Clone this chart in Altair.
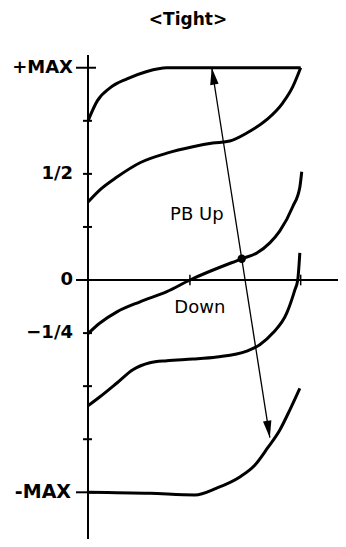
import altair as alt
import pandas as pd

TITLE = "<Tight>"

# y units: +MAX = 4, 1/2 = 2, 0 = 0, -1/4 = -1, -MAX = -4
major_ticks = [4, 0, -4]
minor_ticks = [3, 2, 1, -1, -2, -3]
label_values = [4, 2, 0, -1]
label_texts = ["+MAX", "1/2", "0", "\u22121/4"]
negmax_value = [-4]
negmax_text = ["-MAX"]
x_ticks = [4.86, 10.14]

# curves
c1_x = [0, 0.45, 1.05, 1.86, 2.81, 3.76, 10.14]
c1_y = [3.0, 3.38, 3.62, 3.79, 3.93, 4.0, 4.0]
c2_x = [0, 0.57, 1.38, 2.48, 3.76, 5.0, 5.95, 6.76, 7.57, 8.52, 9.29, 9.76, 10.14]
c2_y = [1.47, 1.70, 1.94, 2.21, 2.39, 2.51, 2.58, 2.62, 2.77, 3.02, 3.34, 3.64, 4.0]
c3_x = [0, 0.57, 1.38, 2.48, 3.76, 4.86, 7.33, 8.05, 8.67, 9.14, 9.76, 10.1, 10.19]
c3_y = [-1.01, -0.81, -0.60, -0.41, -0.22, 0.0, 0.40, 0.51, 0.70, 0.92, 1.38, 1.75, 2.04]
c4_x = [0, 0.57, 1.38, 2.14, 2.95, 3.76, 5.0, 6.14, 7.57, 8.19, 8.81, 9.48, 9.86, 10.0, 10.1]
c4_y = [-2.37, -2.20, -1.94, -1.69, -1.56, -1.52, -1.49, -1.45, -1.34, -1.22, -1.0, -0.62, -0.19, 0.0, 0.51]
c5_x = [0, 2.95, 5.1, 6.14, 7.24, 7.95, 8.57, 9.14, 9.62, 10.1]
c5_y = [-4.0, -4.02, -4.05, -3.92, -3.71, -3.49, -3.16, -2.83, -2.45, -2.04]

arrow_x = [5.9, 8.67]
arrow_y = [4.0, -2.97]
dot_x = [7.33]
dot_y = [0.40]

notes_text = ["PB Up", "Down"]
notes_x = [5.19, 5.33]
notes_y = [1.22, -0.53]

x_extent = [0, 11.92]
y_extent = [-4.88, 4.24]

rows = []
for name, xs_, ys_ in [("c1", c1_x, c1_y), ("c2", c2_x, c2_y), ("c3", c3_x, c3_y),
                       ("c4", c4_x, c4_y), ("c5", c5_x, c5_y)]:
    for i, (a, b) in enumerate(zip(xs_, ys_)):
        rows.append({"s": name, "i": i, "x": a, "y": b})
curves = pd.DataFrame(rows)

xs = alt.Scale(domain=x_extent, nice=False, zero=False)
ys = alt.Scale(domain=y_extent, nice=False, zero=False)


def X(f):
    return alt.X(f, type="quantitative", scale=xs, axis=None)


def Y(f):
    return alt.Y(f, type="quantitative", scale=ys, axis=None)


FONT = "DejaVu Sans"

yaxis = alt.Chart(pd.DataFrame({"x": [0], "y": [y_extent[0]], "y2": [y_extent[1]]})).mark_rule(
    strokeWidth=2, color="black").encode(x=X("x"), y=Y("y"), y2="y2")
xaxis = alt.Chart(pd.DataFrame({"y": [0], "x": [x_extent[0]], "x2": [x_extent[1]]})).mark_rule(
    strokeWidth=2, color="black").encode(y=Y("y"), x=X("x"), x2="x2")

major = alt.Chart(pd.DataFrame({"v": major_ticks})).mark_rule(strokeWidth=2, color="black").encode(
    y=Y("v"), x=alt.value(-12), x2=alt.value(8))
minor = alt.Chart(pd.DataFrame({"v": minor_ticks})).mark_rule(strokeWidth=2, color="black").encode(
    y=Y("v"), x=alt.value(-5), x2=alt.value(4))
xt = alt.Chart(pd.DataFrame({"x": x_ticks, "a": [0.1] * 2, "b": [-0.1] * 2})).mark_rule(
    strokeWidth=1.5, color="black").encode(x=X("x"), y=Y("a"), y2="b")

labels = alt.Chart(pd.DataFrame({"v": label_values, "t": label_texts})).mark_text(
    align="right", baseline="middle", dx=-15, font=FONT, fontWeight="bold", fontSize=18, color="black"
).encode(y=Y("v"), x=alt.value(0), text="t:N")
negmax = alt.Chart(pd.DataFrame({"v": negmax_value, "t": negmax_text})).mark_text(
    align="right", baseline="middle", dx=-17, font=FONT, fontWeight="bold", fontSize=19, color="black"
).encode(y=Y("v"), x=alt.value(0), text="t:N")

lines = alt.Chart(curves).mark_line(strokeWidth=3, color="black", interpolate="monotone").encode(
    x=X("x"), y=Y("y"), detail="s:N", order="i:Q")

arrow = alt.Chart(pd.DataFrame({"x": arrow_x, "y": arrow_y, "i": [0, 1]})).mark_line(
    strokeWidth=1.3, color="black").encode(x=X("x"), y=Y("y"), order="i:Q")
head_up = alt.Chart(pd.DataFrame({"x": arrow_x[:1], "y": arrow_y[:1]})).mark_point(
    shape="M0,0L-0.3,1.2L0.3,1.2Z", filled=True, size=800, angle=351, color="black", opacity=1,
    strokeWidth=0).encode(x=X("x"), y=Y("y"))
head_down = alt.Chart(pd.DataFrame({"x": arrow_x[1:], "y": arrow_y[1:]})).mark_point(
    shape="M0,0L-0.3,-1.2L0.3,-1.2Z", filled=True, size=800, angle=351, color="black", opacity=1,
    strokeWidth=0).encode(x=X("x"), y=Y("y"))
dot = alt.Chart(pd.DataFrame({"x": dot_x, "y": dot_y})).mark_point(
    shape="circle", filled=True, size=70, color="black", opacity=1).encode(x=X("x"), y=Y("y"))

notes = alt.Chart(pd.DataFrame({"x": notes_x, "y": notes_y, "t": notes_text})).mark_text(
    align="center", baseline="middle", font=FONT, fontSize=18, color="black"
).encode(x=X("x"), y=Y("y"), text="t:N")

chart = alt.layer(
    yaxis, xaxis, major, minor, xt, lines, arrow, head_up, head_down, dot, labels, negmax, notes
).properties(
    width=250, height=484,
    padding={"left": 80, "top": 47, "right": 0, "bottom": 0},
    autosize="none",
    title=alt.TitleParams(TITLE, font=FONT, fontWeight="bold", fontSize=17, color="black",
                          dx=-25, offset=25, anchor="middle"),
).configure_view(stroke=None)

chart.save("out.html", embed_options={"renderer": "svg", "actions": False})
